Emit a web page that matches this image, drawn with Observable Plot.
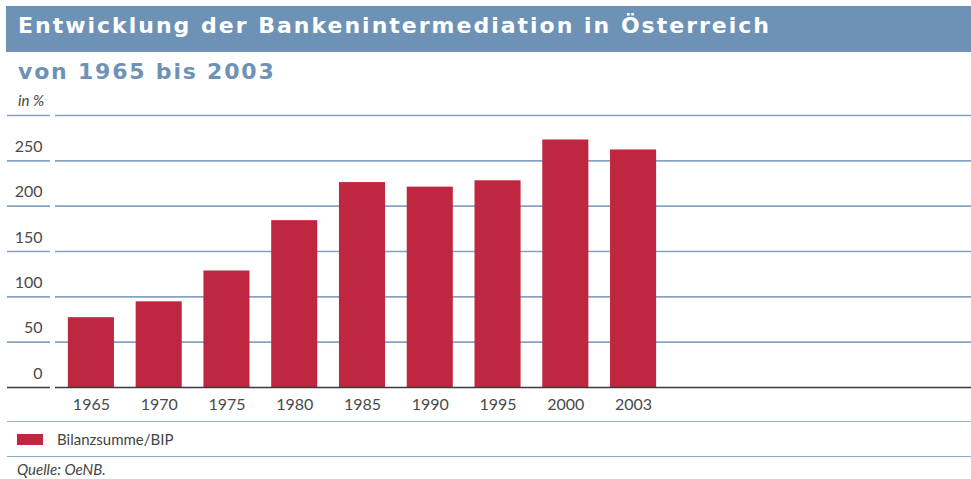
<!DOCTYPE html>
<html>
<head>
<meta charset="utf-8">
<script src="https://cdn.jsdelivr.net/npm/d3@7"></script>
<script src="https://cdn.jsdelivr.net/npm/@observablehq/plot@0.6"></script>
<style>
  html, body { margin: 0; padding: 0; background: #fff; }
  #wrap { position: relative; width: 971px; height: 479px; overflow: hidden; font-family: Lato, "Open Sans", sans-serif; }
  .abs { position: absolute; }
  #titlebar { left: 6px; top: 6px; width: 965px; height: 46px; background: #6d92b5; }
  #title { left: 18px; top: 13px; font-family: "DejaVu Sans", sans-serif; font-weight: bold; font-size: 22px; color: #fff; letter-spacing: 2px; white-space: nowrap; }
  #subtitle { left: 18px; top: 59px; font-family: "DejaVu Sans", sans-serif; font-weight: bold; font-size: 22px; color: #6d92b5; letter-spacing: 1.8px; white-space: nowrap; }
  #unit { left: 18px; top: 91px; font-size: 15px; font-style: italic; color: #444; }
  #chart { left: 0; top: 90px; }
  .hline { height: 0; border-top: 1.5px solid #8eacc8; left: 7px; width: 964px; }
  #legend { left: 17px; top: 430px; display: flex; align-items: center; font-size: 15px; color: #444; }
  #swatch { width: 26px; height: 11px; background: #bf2740; margin-right: 14px; }
  #source { left: 17px; top: 460px; font-size: 15px; font-style: italic; color: #444; }
</style>
</head>
<body>
<div id="wrap">
  <div id="titlebar" class="abs"></div>
  <div id="title" class="abs">Entwicklung der Bankenintermediation in Österreich</div>
  <div id="subtitle" class="abs">von 1965 bis 2003</div>
  <div id="unit" class="abs">in %</div>
  <div id="chart" class="abs"></div>
  <div class="abs hline" style="top:421px"></div>
  <div id="legend" class="abs"><div id="swatch"></div><span>Bilanzsumme/BIP</span></div>
  <div class="abs hline" style="top:455.5px"></div>
  <div id="source" class="abs">Quelle: OeNB.</div>
</div>
<script>
const years = ["1965", "1970", "1975", "1980", "1985", "1990", "1995", "2000", "2003"];
const values = [77, 94.5, 128.5, 184, 226, 221, 228, 273, 262];
const yLabelTicks = [0, 50, 100, 150, 200, 250];
const gridTicks = [50, 100, 150, 200, 250, 300];
const baseTick = [0];
const seriesName = "Bilanzsumme/BIP";

const data = years.map((y, i) => ({year: y, value: values[i]}));

const blue = "#84a3c0";
const dark = "#3a3a3a";
const barColor = "#bf2740";

const chart = Plot.plot({
  width: 971,
  height: 330,
  marginTop: 25,
  marginBottom: 33,
  marginLeft: 55,
  marginRight: 0,
  style: {fontFamily: "Lato, 'Open Sans', sans-serif", fontSize: "16px", color: "#4a4a4a", background: "transparent", overflow: "visible"},
  x: {type: "band", domain: years, range: [55, 669], paddingInner: 0.32, paddingOuter: 0.19, round: false},
  y: {domain: [0, 300]},
  marks: [
    Plot.ruleY(gridTicks, {stroke: blue, strokeWidth: 1.6}),
    Plot.axisY(gridTicks, {tickSize: 43, dx: -5, fill: "none", stroke: blue, strokeWidth: 1.6, label: null}),
    Plot.axisY(yLabelTicks, {tickSize: 0, tickPadding: 13, stroke: "none", fill: "#4a4a4a", dy: -14, fontSize: 16, label: null}),
    Plot.barY(data, {x: "year", y: "value", fill: barColor}),
    Plot.ruleY(baseTick, {stroke: dark, strokeWidth: 1.5}),
    Plot.axisY(baseTick, {tickSize: 43, dx: -5, fill: "none", stroke: dark, strokeWidth: 1.5, label: null}),
    Plot.axisX({tickSize: 0, tickPadding: 11, fontSize: 16, fill: "#4a4a4a", label: null})
  ]
});
document.getElementById("chart").appendChild(chart);
</script>
</body>
</html>
